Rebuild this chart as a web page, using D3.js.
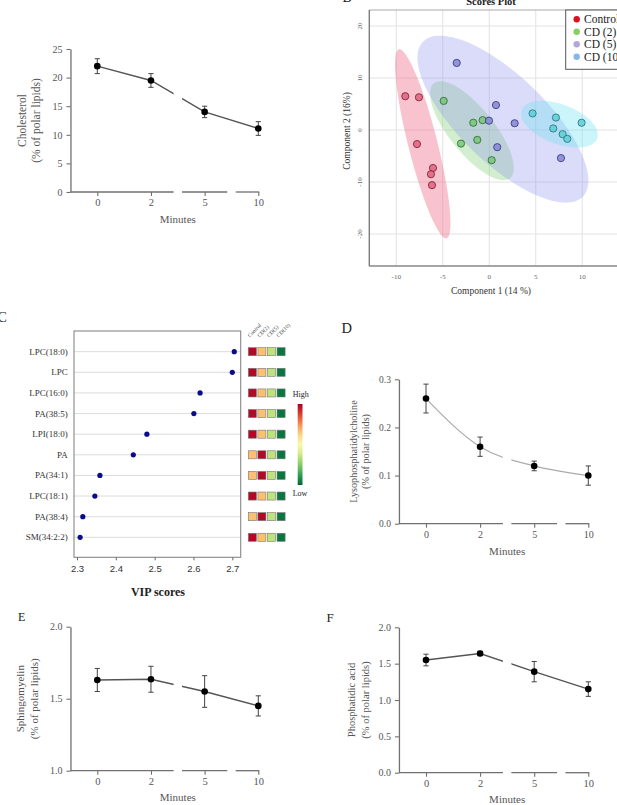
<!DOCTYPE html>
<html><head><meta charset="utf-8">
<script src="https://cdn.jsdelivr.net/npm/d3@7"></script>
<style>
html,body{margin:0;padding:0;background:#fff;overflow:hidden}
svg{display:block}
</style></head><body>
<svg id="fig" width="617" height="805"></svg>
<script>
// ---------- DATA ----------
const minutes = ["0", "2", "5", "10"];
const cholMean = [22.0, 19.5, 14.0, 11.1];
const cholErr  = [1.3, 1.2, 1.0, 1.2];
const lpcMean  = [0.26, 0.16, 0.12, 0.10];
const lpcErr   = [0.03, 0.02, 0.01, 0.02];
const smMean   = [1.63, 1.635, 1.55, 1.45];
const smErr    = [0.08, 0.09, 0.11, 0.07];
const paMean   = [1.55, 1.64, 1.39, 1.15];
const paErr    = [0.08, 0.03, 0.14, 0.10];

const cholTicks = [0, 5, 10, 15, 20, 25];
const lpcTicks  = [0, 0.1, 0.2, 0.3];
const smTicks   = [1.0, 1.5, 2.0];
const paTicks   = [0, 0.5, 1.0, 1.5, 2.0];

// Scores plot (PLS-DA)
const groups = ["Control", "CD (2)", "CD (5)", "CD (10)"];
const scoresControl = [[-9.03, 6.5], [-7.56, 6.3], [-7.77, -2.7], [-6.05, -7.3], [-6.27, -8.5], [-6.16, -10.6]];
const scoresCD2     = [[-4.9, 5.6], [-1.72, 1.4], [-0.71, 1.9], [-3.04, -2.6], [-1.29, -1.9], [0.26, -5.8]];
const scoresCD5     = [[-3.5, 12.9], [0.72, 4.8], [-0.03, 1.8], [2.73, 1.3], [0.86, -3.3], [7.71, -5.4]];
const scoresCD10    = [[4.66, 3.2], [7.17, 2.4], [9.93, 1.4], [6.88, 0.3], [7.89, -0.8], [8.39, -1.7]];
// ellipse: centre, end of major semi-axis (data units), minor/major ratio
const ellipseCentres = [[-7.15, -2.65], [-1.86, -0.15], [1.47, 2.08], [7.55, 1.12]];
const ellipseEnds    = [[-9.71, 15.52], [-5.95, 8.98], [-7.13, 16.98], [3.48, 3.85]];
const ellipseRatios  = [0.15, 0.37, 0.39, 0.49];
const scoreXTicks = [-10, -5, 0, 5, 10];
const scoreYTicks = [-20, -10, 0, 10, 20];

// VIP scores
const vipLabels = ["LPC(18:0)", "LPC", "LPC(16:0)", "PA(38:5)", "LPI(18:0)", "PA", "PA(34:1)", "LPC(18:1)", "PA(38:4)", "SM(34:2:2)"];
const vipValues = [2.705, 2.70, 2.617, 2.601, 2.48, 2.445, 2.359, 2.346, 2.315, 2.308];
const vipTicks = [2.3, 2.4, 2.5, 2.6, 2.7];
const heatCols = ["Control", "CD(2)", "CD(5)", "CD(10)"];
// relative level (4 = highest, 1 = lowest) per row, columns Control, CD(2), CD(5), CD(10)
const heatLevels = [
  [4, 3, 2, 1], [4, 3, 2, 1], [4, 3, 2, 1], [4, 3, 2, 1], [4, 3, 2, 1],
  [3, 4, 2, 1], [3, 4, 2, 1], [4, 3, 2, 1], [3, 4, 2, 1], [4, 3, 2, 1]
];

// ---------- DRAW ----------
const svg = d3.select("#fig");
const SERIF = "'Liberation Serif','Times New Roman',serif";
const SANS = "'Liberation Sans',Arial,sans-serif";
const AX = "#707070", TXT = "#555";

function panelLetter(t, x, y, size) {
  svg.append("text").attr("x", x).attr("y", y).text(t)
    .attr("font-family", SERIF).attr("font-size", size).attr("fill", "#222");
}

let clipId = 0;
function timeCourse(o) {
  const g = svg.append("g");
  const x = d3.scalePoint().domain(minutes).range([o.x0, o.x1]);
  const y = d3.scaleLinear().domain(o.yDomain).range(o.yRange);
  const step = x.step();
  const g1 = (x("2") + x("5")) / 2, g2 = (x("5") + x("10")) / 2, hg = 4.2;
  const yAxisX = o.x0 - step / 2;

  // y axis
  const ya = g.append("g").attr("transform", `translate(${yAxisX},0)`)
    .call(d3.axisLeft(y).tickValues(o.ticks).tickFormat(o.fmt).tickSize(4).tickSizeOuter(0).tickPadding(4));
  ya.select(".domain").attr("stroke", AX).attr("stroke-width", 1.3);
  ya.selectAll(".tick line").attr("stroke", AX).attr("stroke-width", 1.1);
  ya.selectAll("text").attr("font-family", SERIF).attr("font-size", o.fs).attr("fill", TXT);

  // x axis with breaks
  const xa = g.append("g").attr("transform", `translate(0,${o.yRange[0]})`)
    .call(d3.axisBottom(x).tickSize(4).tickPadding(3));
  xa.select(".domain").remove();
  xa.selectAll(".tick line").attr("stroke", AX).attr("stroke-width", 1.1);
  xa.selectAll("text").attr("font-family", SERIF).attr("font-size", o.fs + 0.5).attr("fill", TXT);
  const segs = [[yAxisX, g1 - hg], [g1 + hg, g2 - hg], [g2 + hg, x("10") + 1]];
  g.selectAll("line.seg").data(segs).join("line").attr("class", "seg")
    .attr("x1", d => d[0]).attr("x2", d => d[1])
    .attr("y1", o.yRange[0]).attr("y2", o.yRange[0])
    .attr("stroke", AX).attr("stroke-width", 1.3);

  // clip for the broken line
  const id = "clip" + (clipId++);
  const cp = svg.append("clipPath").attr("id", id);
  cp.selectAll("rect").data(segs).join("rect")
    .attr("x", (d, i) => i === 0 ? d[0] - 20 : d[0]).attr("width", d => (d[1] - d[0]) + 20)
    .attr("y", o.yRange[1] - 30).attr("height", o.yRange[0] - o.yRange[1] + 40);

  const idx = d3.range(minutes.length);
  const line = d3.line().x(i => x(minutes[i])).y(i => y(o.mean[i])).curve(o.curve || d3.curveLinear);
  g.append("path").attr("d", line(idx)).attr("fill", "none")
    .attr("stroke", o.lineColor).attr("stroke-width", o.lineWidth || 1.4)
    .attr("clip-path", `url(#${id})`);

  // error bars
  const eb = g.selectAll("g.eb").data(idx).join("g").attr("class", "eb");
  eb.append("line").attr("x1", i => x(minutes[i])).attr("x2", i => x(minutes[i]))
    .attr("y1", i => y(o.mean[i] - o.err[i])).attr("y2", i => y(o.mean[i] + o.err[i]))
    .attr("stroke", "#444").attr("stroke-width", 1);
  [-1, 1].forEach(s => {
    eb.append("line").attr("x1", i => x(minutes[i]) - 2.6).attr("x2", i => x(minutes[i]) + 2.6)
      .attr("y1", i => y(o.mean[i] + s * o.err[i])).attr("y2", i => y(o.mean[i] + s * o.err[i]))
      .attr("stroke", "#444").attr("stroke-width", 1);
  });
  g.selectAll("circle").data(idx).join("circle")
    .attr("cx", i => x(minutes[i])).attr("cy", i => y(o.mean[i])).attr("r", 3.3).attr("fill", "#000");

  // labels
  const cy = (o.yRange[0] + o.yRange[1]) / 2;
  o.ylab.forEach((t, k) => {
    g.append("text").attr("transform", `translate(${o.ylabX[k]},${cy}) rotate(-90)`)
      .attr("text-anchor", "middle").attr("dominant-baseline", "central")
      .attr("font-family", SERIF).attr("font-size", o.ylabFs).attr("fill", TXT).text(t);
  });
  g.append("text").attr("x", (o.x0 + o.x1) / 2).attr("y", o.minY)
    .attr("text-anchor", "middle").attr("font-family", SERIF).attr("font-size", 11)
    .attr("fill", TXT).text("Minutes");
}

// Panel A
timeCourse({x0: 97.3, x1: 258.3, yDomain: [0, 25], yRange: [192, 49], ticks: cholTicks, fmt: d3.format("d"),
  mean: cholMean, err: cholErr, lineColor: "#555", fs: 10,
  ylab: ["Cholesterol", "(% of polar lipids)"], ylabX: [21.7, 36], ylabFs: 11.5, minY: 222.5});

// Panel D
panelLetter("D", 341.5, 332.7, 14.5);
timeCourse({x0: 426, x1: 588.3, yDomain: [0, 0.3], yRange: [523.7, 379.3], ticks: lpcTicks, fmt: d3.format(".1f"),
  mean: lpcMean, err: lpcErr, lineColor: "#aaa", lineWidth: 1.2, curve: d3.curveMonotoneX, fs: 9.5,
  ylab: ["Lysophosphatidylcholine", "(% of polar lipids)"], ylabX: [353.3, 365.3], ylabFs: 10.2, minY: 554.5});

// Panel E
panelLetter("E", 18, 621.3, 12);
timeCourse({x0: 97.3, x1: 258.3, yDomain: [1.0, 2.0], yRange: [770.7, 626.7], ticks: smTicks, fmt: d3.format(".1f"),
  mean: smMean, err: smErr, lineColor: "#555", fs: 10,
  ylab: ["Sphingomyelin", "(% of polar lipids)"], ylabX: [20, 34.3], ylabFs: 11, minY: 801});

// Panel F
panelLetter("F", 326.5, 621.7, 13);
timeCourse({x0: 426, x1: 588.3, yDomain: [0, 2.0], yRange: [772.7, 627.3], ticks: paTicks, fmt: d3.format(".1f"),
  mean: paMean, err: paErr, lineColor: "#555", fs: 10,
  ylab: ["Phosphatidic acid", "(% of polar lipids)"], ylabX: [351.7, 365], ylabFs: 10.5, minY: 803});

// ---------- Panel B: scores plot ----------
(function () {
  const g = svg.append("g");
  const L = 369.3, T = 10, B = 266, R = 640;
  const sx = d3.scaleLinear().domain([-12.9, 15.5]).range([L, 633.4]);
  const sy = d3.scaleLinear().domain([-26.15, 23.08]).range([B, T]);
  panelLetter("B", 342.5, 2, 14);
  g.append("text").attr("x", 491).attr("y", 5).attr("text-anchor", "middle")
    .attr("font-family", SERIF).attr("font-weight", "bold").attr("font-size", 10.5).attr("fill", "#222").text("Scores Plot");
  // grid
  g.selectAll("line.gx").data(scoreXTicks).join("line").attr("x1", d => sx(d)).attr("x2", d => sx(d))
    .attr("y1", T).attr("y2", B).attr("stroke", "#e2e2e2").attr("stroke-width", 1);
  g.selectAll("line.gy").data(scoreYTicks).join("line").attr("y1", d => sy(d)).attr("y2", d => sy(d))
    .attr("x1", L).attr("x2", R).attr("stroke", "#e2e2e2").attr("stroke-width", 1);

  const ellFill = ["rgba(240,110,140,0.42)", "rgba(140,210,125,0.38)", "rgba(140,145,235,0.32)", "rgba(110,228,242,0.36)"];
  const ptFill = ["#e3607f", "#76c777", "#8686d8", "#5ccfd6"];
  const ptStroke = ["#7a2a3c", "#3b6e3b", "#3e3e80", "#2c7b80"];
  const legFill = ["#dd1020", "#86d060", "#b3a6dc", "#86b6ea"];
  const sets = [scoresControl, scoresCD2, scoresCD5, scoresCD10];

  ellipseCentres.forEach((c, i) => {
    const cx = sx(c[0]), cy = sy(c[1]);
    const ex = sx(ellipseEnds[i][0]), ey = sy(ellipseEnds[i][1]);
    const a = Math.hypot(ex - cx, ey - cy);
    const ang = Math.atan2(ey - cy, ex - cx) * 180 / Math.PI;
    g.append("ellipse").attr("cx", cx).attr("cy", cy).attr("rx", a).attr("ry", a * ellipseRatios[i])
      .attr("transform", `rotate(${ang},${cx},${cy})`).attr("fill", ellFill[i]);
  });
  sets.forEach((s, i) => {
    g.selectAll(null).data(s).join("circle").attr("cx", d => sx(d[0])).attr("cy", d => sy(d[1]))
      .attr("r", 3.6).attr("fill", ptFill[i]).attr("fill-opacity", 0.85)
      .attr("stroke", ptStroke[i]).attr("stroke-width", 0.9);
  });
  // frame
  g.append("rect").attr("x", L).attr("y", T).attr("width", R - L).attr("height", B - T)
    .attr("fill", "none").attr("stroke", "#aaa").attr("stroke-width", 1);
  g.append("line").attr("x1", L).attr("x2", L).attr("y1", T).attr("y2", B).attr("stroke", "#777").attr("stroke-width", 1.2);
  g.append("line").attr("x1", L).attr("x2", R).attr("y1", B).attr("y2", B).attr("stroke", "#777").attr("stroke-width", 1.2);
  // ticks
  g.selectAll("text.xt").data(scoreXTicks).join("text").attr("x", d => sx(d)).attr("y", 279)
    .attr("text-anchor", "middle").attr("font-family", SERIF).attr("font-size", 7).attr("fill", "#666").text(d => d);
  g.selectAll("text.yt").data(scoreYTicks).join("text")
    .attr("transform", d => `translate(${360},${sy(d)}) rotate(-90)`)
    .attr("text-anchor", "middle").attr("dominant-baseline", "central")
    .attr("font-family", SERIF).attr("font-size", 7).attr("fill", "#666").text(d => d);
  g.append("text").attr("x", 491).attr("y", 294).attr("text-anchor", "middle")
    .attr("font-family", SERIF).attr("font-size", 9.5).attr("fill", "#333").text("Component 1 (14 %)");
  g.append("text").attr("transform", `translate(346.5,131) rotate(-90)`).attr("text-anchor", "middle")
    .attr("dominant-baseline", "central").attr("font-family", SERIF).attr("font-size", 9.5).attr("fill", "#333")
    .text("Component 2 (16%)");
  // legend
  g.append("rect").attr("x", 565.7).attr("y", 10).attr("width", 80).attr("height", 59.3)
    .attr("fill", "#fff").attr("stroke", "#555").attr("stroke-width", 1);
  groups.forEach((n, i) => {
    const yy = 19.3 + i * 12.5;
    g.append("circle").attr("cx", 576.7).attr("cy", yy).attr("r", 3.2).attr("fill", legFill[i]);
    g.append("text").attr("x", 584).attr("y", yy).attr("dominant-baseline", "central")
      .attr("font-family", SERIF).attr("font-size", 11.5).attr("fill", "#222").text(n);
  });
})();

// ---------- Panel C: VIP scores ----------
(function () {
  const g = svg.append("g");
  panelLetter("C", -2.5, 322, 14);
  const L = 74, R = 240.7, T = 331, B = 557.3;
  const x = d3.scaleLinear().domain([2.3, 2.7]).range([77, 232.3]);
  const y = d3.scalePoint().domain(vipLabels).range([351.7, 537.3]);
  g.selectAll("line.grid").data(vipLabels).join("line").attr("x1", L).attr("x2", R)
    .attr("y1", d => y(d)).attr("y2", d => y(d)).attr("stroke", "#dcdcdc").attr("stroke-width", 1);
  g.append("rect").attr("x", L).attr("y", T).attr("width", R - L).attr("height", B - T)
    .attr("fill", "none").attr("stroke", "#888").attr("stroke-width", 1.1);
  const xa = g.append("g").attr("transform", `translate(0,${B})`)
    .call(d3.axisBottom(x).tickValues(vipTicks).tickFormat(d3.format(".1f")).tickSize(3).tickPadding(5));
  xa.select(".domain").remove();
  xa.selectAll(".tick line").attr("stroke", "#666");
  xa.selectAll("text").attr("font-family", SANS).attr("font-size", 9.5).attr("fill", "#333");
  g.selectAll("text.lab").data(vipLabels).join("text").attr("x", 67.7).attr("y", d => y(d))
    .attr("text-anchor", "end").attr("dominant-baseline", "central")
    .attr("font-family", SERIF).attr("font-size", 9).attr("fill", "#333").text(d => d);
  g.selectAll("circle").data(vipValues).join("circle").attr("cx", d => x(d)).attr("cy", (d, i) => y(vipLabels[i]))
    .attr("r", 2.6).attr("fill", "#0b0b8e");
  g.append("text").attr("x", 158).attr("y", 595.5).attr("text-anchor", "middle")
    .attr("font-family", SERIF).attr("font-weight", "bold").attr("font-size", 12).attr("fill", "#222").text("VIP scores");

  // heatmap
  const hx = d3.scaleBand().domain(heatCols).range([248.3, 285.1]).paddingInner(0.16).paddingOuter(0);
  const hc = d3.scaleLinear().domain([4, 1]).range([0.02, 0.97]);
  heatLevels.forEach((row, r) => {
    g.selectAll(null).data(row).join("rect")
      .attr("x", (d, c) => hx(heatCols[c])).attr("y", y(vipLabels[r]) - hx.bandwidth() / 2)
      .attr("width", hx.bandwidth()).attr("height", hx.bandwidth())
      .attr("fill", d => d3.interpolateRdYlGn(hc(d))).attr("stroke", "#777").attr("stroke-width", 0.6);
  });
  heatCols.forEach(c => {
    g.append("text").attr("transform", `translate(${hx(c) + 1.5},${337.5}) rotate(-45)`)
      .attr("font-family", SERIF).attr("font-size", 5.5).attr("fill", "#444").text(c);
  });
  // colour legend (red = high at top, green = low at bottom)
  const grad = svg.append("defs").append("linearGradient").attr("id", "rdylgn")
    .attr("x1", 0).attr("x2", 0).attr("y1", 0).attr("y2", 1);
  d3.range(0, 1.001, 0.1).forEach(t => grad.append("stop").attr("offset", t).attr("stop-color", d3.interpolateRdYlGn(t)));
  g.append("rect").attr("x", 297.7).attr("y", 404).attr("width", 4.8).attr("height", 81).attr("fill", "url(#rdylgn)");
  g.append("text").attr("x", 300.8).attr("y", 396.5).attr("text-anchor", "middle")
    .attr("font-family", SERIF).attr("font-size", 8).attr("fill", "#222").text("High");
  g.append("text").attr("x", 300).attr("y", 496).attr("text-anchor", "middle")
    .attr("font-family", SERIF).attr("font-size", 8).attr("fill", "#222").text("Low");
})();
</script>
</body></html>
